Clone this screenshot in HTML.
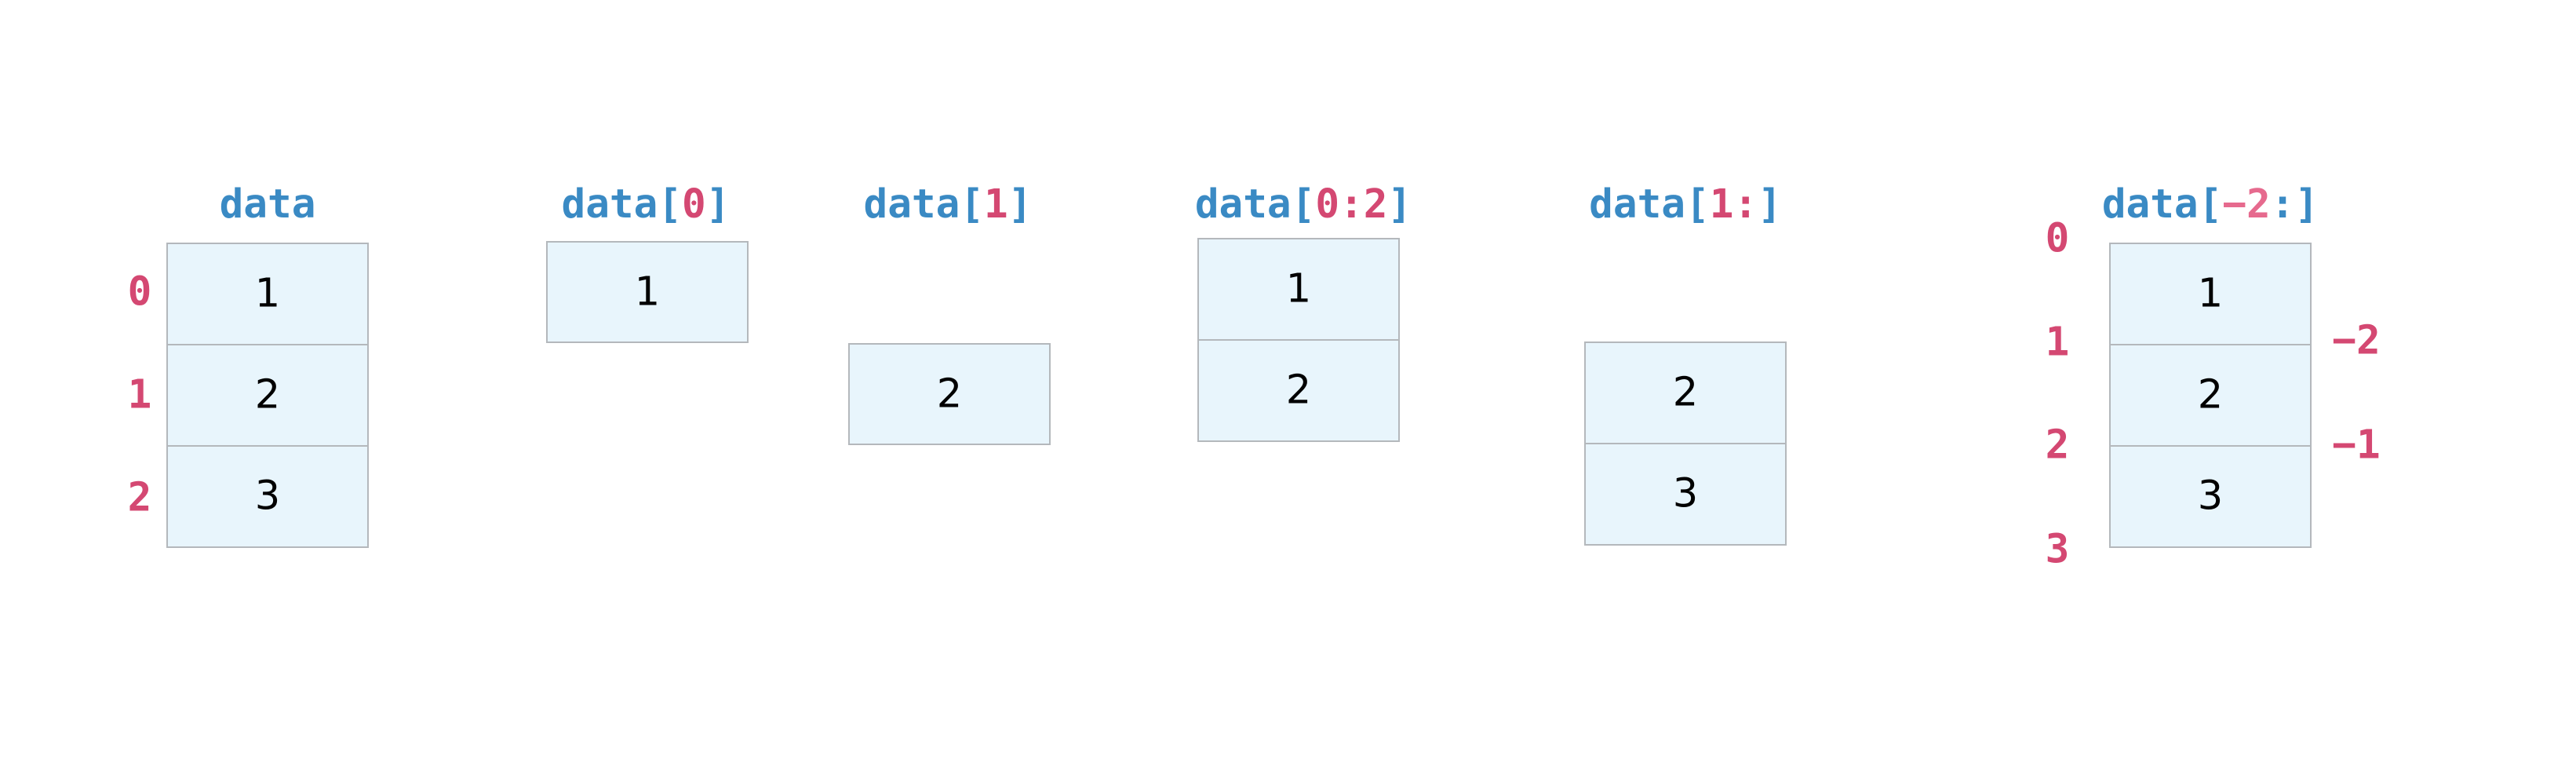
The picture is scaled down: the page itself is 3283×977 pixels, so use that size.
<!DOCTYPE html>
<html><head><meta charset="utf-8"><style>
html,body{margin:0;padding:0;background:#fff;width:3283px;height:977px;overflow:hidden}
svg{display:block}
.t{font-family:"DejaVu Sans Mono","Liberation Mono",monospace;font-weight:bold;font-size:51px;text-anchor:middle;dominant-baseline:central}
.b{fill:#3a8ac4}.p{fill:#d44872}.lp{fill:#e66a8e}
.n{font-family:"DejaVu Sans","Liberation Sans",sans-serif;font-size:51px;text-anchor:middle;dominant-baseline:central;fill:#000}
.i{font-family:"DejaVu Sans Mono","Liberation Mono",monospace;font-weight:bold;font-size:51px;text-anchor:middle;dominant-baseline:central;fill:#d44872}
rect{fill:#e8f5fc;stroke:#b4b8bc;stroke-width:2}
</style></head><body>
<svg width="3283" height="977" viewBox="0 0 3283 977">
<!-- panel 1 -->
<text class="t" x="341" y="260"><tspan class="b">data</tspan></text>
<rect x="213" y="310" width="256" height="129"/><rect x="213" y="439" width="256" height="129"/><rect x="213" y="568" width="256" height="129"/>
<text class="n" x="341" y="374">1</text><text class="n" x="341" y="503">2</text><text class="n" x="341" y="632">3</text>
<text class="i" x="178" y="372">0</text><text class="i" x="178" y="503">1</text><text class="i" x="178" y="634">2</text>
<!-- panel 2 -->
<text class="t" x="823" y="260"><tspan class="b">data[</tspan><tspan class="p">0</tspan><tspan class="b">]</tspan></text>
<rect x="697" y="308" width="256" height="128"/>
<text class="n" x="825" y="372">1</text>
<!-- panel 3 -->
<text class="t" x="1208" y="260"><tspan class="b">data[</tspan><tspan class="p">1</tspan><tspan class="b">]</tspan></text>
<rect x="1082" y="438" width="256" height="128"/>
<text class="n" x="1210" y="502">2</text>
<!-- panel 4 -->
<text class="t" x="1661" y="260"><tspan class="b">data[</tspan><tspan class="p">0:2</tspan><tspan class="b">]</tspan></text>
<rect x="1527" y="304" width="256" height="129"/><rect x="1527" y="433" width="256" height="129"/>
<text class="n" x="1655" y="368">1</text><text class="n" x="1655" y="497">2</text>
<!-- panel 5 -->
<text class="t" x="2148" y="260"><tspan class="b">data[</tspan><tspan class="p">1:</tspan><tspan class="b">]</tspan></text>
<rect x="2020" y="436" width="256" height="129"/><rect x="2020" y="565" width="256" height="129"/>
<text class="n" x="2148" y="500">2</text><text class="n" x="2148" y="629">3</text>
<!-- panel 6 -->
<text class="t" x="2817" y="260"><tspan class="b">data[</tspan><tspan class="lp">−2</tspan><tspan class="b">:]</tspan></text>
<rect x="2689" y="310" width="256" height="129"/><rect x="2689" y="439" width="256" height="129"/><rect x="2689" y="568" width="256" height="129"/>
<text class="n" x="2817" y="374">1</text><text class="n" x="2817" y="503">2</text><text class="n" x="2817" y="632">3</text>
<text class="i" x="2622" y="304">0</text><text class="i" x="2622" y="436">1</text><text class="i" x="2622" y="567">2</text><text class="i" x="2622" y="700">3</text>
<text class="i" x="3003" y="434">−2</text><text class="i" x="3003" y="567">−1</text>
</svg>
</body></html>
